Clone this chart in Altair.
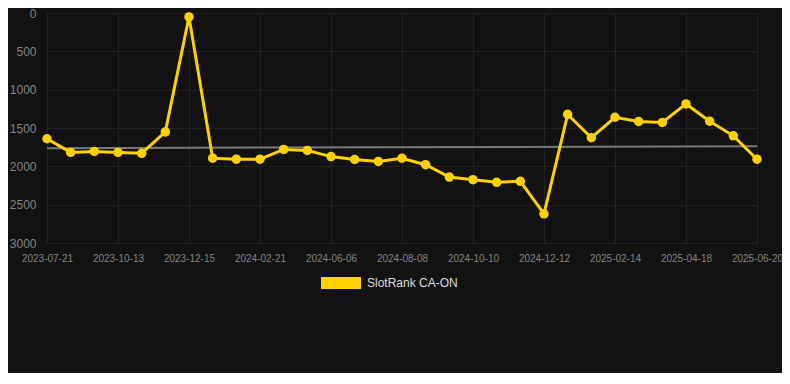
import altair as alt
import pandas as pd

dates = [
    "2023-07-21", "2023-08-18", "2023-09-15", "2023-10-13", "2023-11-03", "2023-11-24",
    "2023-12-15", "2024-01-05", "2024-01-26", "2024-02-21", "2024-03-29", "2024-05-03",
    "2024-06-06", "2024-06-27", "2024-07-18", "2024-08-08", "2024-08-29", "2024-09-19",
    "2024-10-10", "2024-10-31", "2024-11-21", "2024-12-12", "2025-01-02", "2025-01-23",
    "2025-02-14", "2025-03-07", "2025-03-28", "2025-04-18", "2025-05-09", "2025-05-30",
    "2025-06-20",
]
ranks = [
    1640, 1818, 1805, 1818, 1830, 1551, 51, 1894, 1907, 1907,
    1780, 1792, 1873, 1911, 1936, 1894, 1979, 2140, 2174, 2208,
    2195, 2619, 1322, 1627, 1360, 1415, 1428, 1186, 1411, 1602, 1907,
]
tick_dates = dates[::3]
y_ticks = [0, 500, 1000, 1500, 2000, 2500, 3000]
trend_dates = [dates[0], dates[-1]]
trend_values = [1763, 1738]
series_name = "SlotRank CA-ON"

df = pd.DataFrame({"date": dates, "rank": ranks, "series": series_name})
trend_df = pd.DataFrame({"date": trend_dates, "rank": trend_values})

GRID = "#232323"
LABEL = "#858585"
YELLOW = "#FFD100"

x_enc = alt.X(
    "date:O",
    sort=dates,
    scale=alt.Scale(domain=dates, range=[9, 719], padding=0),
    axis=alt.Axis(
        title=None, values=tick_dates, labelAngle=0, labelFontSize=10,
        labelColor=LABEL, ticks=False, domain=False, grid=True,
        gridColor=GRID, labelPadding=10, labelFont="Liberation Sans",
    ),
)
y_enc = alt.Y(
    "rank:Q",
    scale=alt.Scale(domain=[0, 3000], reverse=True, nice=False, zero=False),
    axis=alt.Axis(
        title=None, values=y_ticks, format="d", labelFontSize=12, labelColor=LABEL,
        ticks=False, domain=False, grid=True, gridColor=GRID, labelPadding=2,
        labelFont="Liberation Sans",
    ),
)
color_scale = alt.Scale(domain=[series_name], range=[YELLOW])

trend = alt.Chart(trend_df).mark_line(color="#7a7a7a", strokeWidth=2).encode(x=x_enc, y=y_enc)

line = alt.Chart(df).mark_line(strokeWidth=3, color=YELLOW).encode(x=x_enc, y=y_enc)

pts = alt.Chart(df).mark_circle(size=90, opacity=1).encode(
    x=x_enc, y=y_enc,
    color=alt.Color(
        "series:N", scale=color_scale,
        legend=alt.Legend(
            title=None, orient="none", legendX=283, legendY=250,
            direction="horizontal", symbolType="M-1,-0.3H1V0.3H-1Z",
            symbolSize=1600, symbolStrokeWidth=0, symbolOpacity=1,
            labelFontSize=12, labelColor="#dddddd", labelOffset=6,
            labelFont="Liberation Sans", padding=0,
        ),
    ),
)

chart = (
    alt.layer(trend, line, pts)
    .properties(
        width=744, height=230, autosize="none",
        padding={"left": 30, "top": 5, "right": 0, "bottom": 130},
    )
    .configure(background="#121212")
    .configure_view(stroke=None)
)

chart.save("out.html", embed_options={"renderer": "svg", "actions": False})
